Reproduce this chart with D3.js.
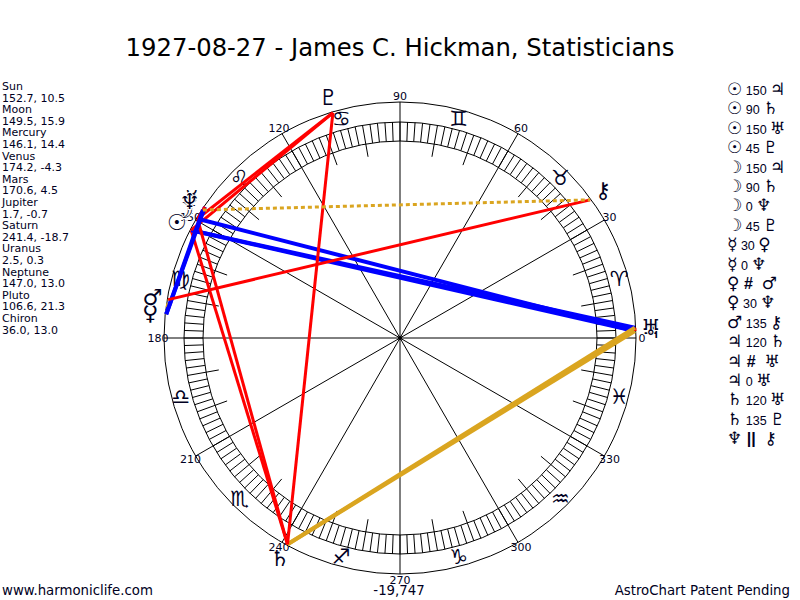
<!DOCTYPE html>
<html lang="en">
  <head>
    <meta charset="utf-8">
    <title>1927-08-27 - James C. Hickman, Statisticians</title>
    <script src="https://d3js.org/d3.v7.js"></script>
    <style>
      body { margin: 0; background: white; }
      text { font-family: "DejaVu Sans", Verdana, sans-serif; fill: #000022; }
    </style>
  </head>

  <body>

  <script>

// chart data

  const planetNames = ["Sun", "Moon", "Mercury", "Venus", "Mars", "Jupiter",
    "Saturn", "Uranus", "Neptune", "Pluto", "Chiron"];
  const planetGlyphs = ["\u2609", "\u263D", "\u263F", "\u2640", "\u2642", "\u2643",
    "\u2644", "\u2645", "\u2646", "\u2647", "\u26B7"];
  const planetLons = [152.7, 149.5, 146.1, 174.2, 170.6, 1.7, 241.4, 2.5, 147.0, 106.6, 36.0];
  const planetLats = [10.5, 15.9, 14.4, -4.3, 4.5, -0.7, -18.7, 0.3, 13.0, 21.3, 13.0];

  // aspects: from planet, aspect, to planet
  const aspectFrom = ["Sun", "Sun", "Sun", "Sun", "Moon", "Moon", "Moon", "Moon",
    "Mercury", "Mercury", "Venus", "Venus", "Mars", "Jupiter", "Jupiter", "Jupiter",
    "Saturn", "Saturn", "Neptune"];
  const aspectType = ["150", "90", "150", "45", "150", "90", "0", "45",
    "30", "0", "#", "30", "135", "120", "#", "0",
    "120", "135", "||"];
  const aspectTo = ["Jupiter", "Saturn", "Uranus", "Pluto", "Jupiter", "Saturn", "Neptune", "Pluto",
    "Venus", "Neptune", "Mars", "Neptune", "Chiron", "Saturn", "Uranus", "Uranus",
    "Uranus", "Pluto", "Chiron"];

  const signGlyphs = ["\u2648", "\u2649", "\u264A", "\u264B", "\u264C", "\u264D",
    "\u264E", "\u264F", "\u2650", "\u2651", "\u2652", "\u2653"];
  const degreeLabels = [0, 30, 60, 90, 120, 150, 180, 210, 240, 270, 300, 330];

  const title = "1927-08-27 - James C. Hickman, Statisticians";
  const centerNote = "-19,747";

// geometry

  const w = 800;
  const h = 600;
  const cx = 400, cy = 338;
  const rOuter = 236, rBandOut = 216, rBandIn = 197, rTen = 184;
  const rLine = 235, rPlanet = 251, rSign = 227, rLabel = 242;

  // longitude (counter-clockwise from the east) -> d3 radial angle
  const angle = d3.scaleLinear()
      .domain([0, 360])
      .range([Math.PI / 2, Math.PI / 2 - 2 * Math.PI]);

  const pos = (lon, r) => d3.pointRadial(angle(lon), r);
  const lonOf = name => planetLons[planetNames.indexOf(name)];

  const aspectStyle = {
    "0":   {stroke: "#ff0000", width: 3, dash: null},
    "30":  {stroke: "#0000ff", width: 4, dash: null},
    "45":  {stroke: "#ff0000", width: 3, dash: null},
    "90":  {stroke: "#ff0000", width: 3, dash: null},
    "120": {stroke: "#daa520", width: 4, dash: null},
    "135": {stroke: "#ff0000", width: 3, dash: null},
    "150": {stroke: "#0000ff", width: 4, dash: null},
    "#":   {stroke: "#daa520", width: 3, dash: "4,3"},
    "||":  {stroke: "#daa520", width: 3, dash: "4,3"}
  };

  const svg = d3.select("body")
    .append("svg")
      .attr("width", w)
      .attr("height", h);

  svg.append("text")
      .attr("x", w / 2)
      .attr("y", 56)
      .attr("text-anchor", "middle")
      .attr("font-size", 24.3)
      .style("fill", "#000000")
      .text(title);

  const wheel = svg.append("g")
      .attr("transform", `translate(${cx}, ${cy})`);

// circles, ticks and spokes

  wheel.selectAll("circle.ring")
    .data([rOuter, rBandOut, rBandIn])
    .join("circle")
      .attr("class", "ring")
      .attr("r", d => d)
      .attr("fill", "none")
      .attr("stroke", "black")
      .attr("stroke-width", 1);

  wheel.selectAll("line.tick")
    .data(d3.range(0, 360, 2))
    .join("line")
      .attr("class", "tick")
      .attr("x1", d => pos(d, rBandIn)[0])
      .attr("y1", d => pos(d, rBandIn)[1])
      .attr("x2", d => pos(d, rBandOut)[0])
      .attr("y2", d => pos(d, rBandOut)[1])
      .attr("stroke", "black")
      .attr("stroke-width", 1);

  wheel.selectAll("line.ten")
    .data(d3.range(10, 360, 10).filter(d => d % 30 !== 0))
    .join("line")
      .attr("class", "ten")
      .attr("x1", d => pos(d, rTen)[0])
      .attr("y1", d => pos(d, rTen)[1])
      .attr("x2", d => pos(d, rBandIn)[0])
      .attr("y2", d => pos(d, rBandIn)[1])
      .attr("stroke", "black")
      .attr("stroke-width", 1);

  wheel.selectAll("line.spoke")
    .data(degreeLabels)
    .join("line")
      .attr("class", "spoke")
      .attr("x1", 0)
      .attr("y1", 0)
      .attr("x2", d => pos(d, rOuter)[0])
      .attr("y2", d => pos(d, rOuter)[1])
      .attr("stroke", "black")
      .attr("stroke-width", 1);

  wheel.append("circle")
      .attr("r", 2)
      .attr("fill", "black");

// signs and degree labels

  wheel.selectAll("text.sign")
    .data(signGlyphs)
    .join("text")
      .attr("class", "sign")
      .attr("x", (d, i) => pos(15 + 30 * i, rSign)[0])
      .attr("y", (d, i) => pos(15 + 30 * i, rSign)[1])
      .attr("text-anchor", "middle")
      .attr("dominant-baseline", "central")
      .attr("font-size", 21)
      .text(d => d + "\uFE0E");

  wheel.selectAll("text.deg")
    .data(degreeLabels)
    .join("text")
      .attr("class", "deg")
      .attr("x", d => pos(d, rLabel)[0])
      .attr("y", d => pos(d, rLabel)[1])
      .attr("text-anchor", "middle")
      .attr("dominant-baseline", "central")
      .attr("font-size", 11)
      .text(d => d);

// aspect lines

  const aspects = aspectFrom.map((f, i) => ({from: f, type: aspectType[i], to: aspectTo[i]}));

  wheel.selectAll("line.aspect")
    .data(aspects)
    .join("line")
      .attr("class", "aspect")
      .attr("x1", d => pos(lonOf(d.from), rLine)[0])
      .attr("y1", d => pos(lonOf(d.from), rLine)[1])
      .attr("x2", d => pos(lonOf(d.to), rLine)[0])
      .attr("y2", d => pos(lonOf(d.to), rLine)[1])
      .attr("stroke", d => aspectStyle[d.type].stroke)
      .attr("stroke-width", d => aspectStyle[d.type].width)
      .attr("stroke-dasharray", d => aspectStyle[d.type].dash);

// planet glyphs (white halo hides the degree label beneath)

  wheel.selectAll("text.planet")
    .data(planetLons)
    .join("text")
      .attr("class", "planet")
      .attr("x", d => pos(d, rPlanet)[0])
      .attr("y", d => pos(d, rPlanet)[1])
      .attr("text-anchor", "middle")
      .attr("dominant-baseline", "central")
      .attr("font-size", 22)
      .attr("stroke", "white")
      .attr("stroke-width", 2)
      .attr("paint-order", "stroke")
      .text((d, i) => planetGlyphs[i] + "\uFE0E");

// left list of positions

  const listRows = [];
  planetNames.forEach((n, i) => {
    listRows.push(n);
    listRows.push(d3.format(".1f")(planetLons[i]) + ", " + d3.format(".1f")(planetLats[i]).replace("\u2212", "-"));
  });

  svg.selectAll("text.pos")
    .data(listRows)
    .join("text")
      .attr("class", "pos")
      .attr("x", 2)
      .attr("y", (d, i) => 90 + i * 11.6)
      .attr("font-size", 11)
      .text(d => d);

// right list of aspects

  const glyphOf = name => planetGlyphs[planetNames.indexOf(name)] + "\uFE0E";
  const isPar = t => t === "#" || t === "||";

  const rows = svg.selectAll("text.asp")
    .data(aspects)
    .join("text")
      .attr("class", "asp")
      .attr("x", 727)
      .attr("y", (d, i) => 95 + i * 19.4)
      .attr("font-size", 17);

  rows.append("tspan").text(d => glyphOf(d.from));
  rows.append("tspan")
      .attr("font-family", "'Liberation Sans', Arial, sans-serif")
      .attr("font-size", d => isPar(d.type) ? 16 : 12.5)
      .attr("font-weight", d => isPar(d.type) ? "bold" : "normal")
      .text(d => isPar(d.type) ? "\u00A0" + d.type + "\u00A0\u00A0" : "\u00A0" + d.type + "\u00A0");
  rows.append("tspan").text(d => glyphOf(d.to));

// footer

  svg.append("text")
      .attr("x", 2)
      .attr("y", 595)
      .attr("font-size", 13.3)
      .text("www.harmoniclife.com");

  svg.append("text")
      .attr("x", 399)
      .attr("y", 595)
      .attr("text-anchor", "middle")
      .attr("font-size", 13.3)
      .text(centerNote);

  svg.append("text")
      .attr("x", 790)
      .attr("y", 595)
      .attr("text-anchor", "end")
      .attr("font-size", 13.3)
      .text("AstroChart Patent Pending");

  </script>

  </body>

</html>
